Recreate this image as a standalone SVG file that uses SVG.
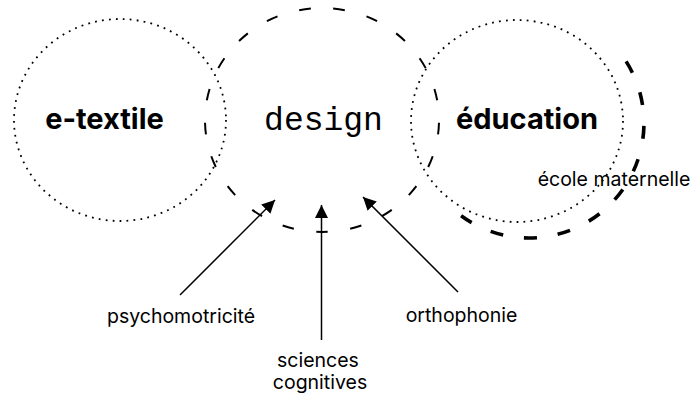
<svg xmlns="http://www.w3.org/2000/svg" width="694" height="395" viewBox="0 0 694 395">
<style>
.dot{fill:none;stroke:#000;stroke-width:1.8;stroke-dasharray:1.8 5.2}
.dash{fill:none;stroke:#000;stroke-width:2}
.thick{fill:none;stroke:#000;stroke-width:3.6;stroke-dasharray:13 20.9}
.head{font-family:Inter,"Liberation Sans",sans-serif;font-weight:700;font-size:29px;fill:#000;text-anchor:middle}
.mono{font-family:"Liberation Mono",monospace;font-size:33px;fill:#000;text-anchor:middle}
.lab{font-family:Inter,"Liberation Sans",sans-serif;font-size:19.5px;fill:#000;text-anchor:middle}
.conn{stroke:#000;stroke-width:1.5;fill:none}
</style>
<defs>
<marker id="arr" markerUnits="userSpaceOnUse" markerWidth="14" markerHeight="13" refX="13" refY="6.5" orient="auto">
<path d="M0,0 L13,6.5 L0,13 Z" fill="#000"/>
</marker>
</defs>
<g id="etextile">
<ellipse class="dot" cx="120" cy="120" rx="106" ry="101"/>
<text class="head" x="104.5" y="129">e-textile</text>
</g>
<g id="design">
<path class="dash" pathLength="21" stroke-dasharray="0.34 0.66" stroke-dashoffset="0.17" d="M322,232 A117,112 0 0 1 205,120 A117,112 0 0 1 322,8 A117,112 0 0 1 439,120 A117,112 0 0 1 322,232 Z"/>
<text class="mono" x="323.5" y="130">design</text>
</g>
<g id="education">
<ellipse class="dot" cx="517" cy="121" rx="106" ry="101"/>
<text class="head" x="527" y="129">éducation</text>
</g>
<g id="ecole">
<path class="thick" d="M626.1,61.4 A115,115 0 0 1 461.1,215.8"/>
<text class="lab" x="614" y="186">école maternelle</text>
</g>
<g id="psychomotricite"><text class="lab" x="181" y="323">psychomotricité</text></g>
<g id="sciences"><text class="lab" x="318" y="367">sciences</text><text class="lab" x="320" y="389">cognitives</text></g>
<g id="orthophonie"><text class="lab" x="461.5" y="322">orthophonie</text></g>
<g id="connectors">
<line class="conn" x1="180" y1="295" x2="275" y2="200" marker-end="url(#arr)"/>
<line class="conn" x1="321.5" y1="340" x2="321.5" y2="205" marker-end="url(#arr)"/>
<line class="conn" x1="458" y1="292" x2="363" y2="197" marker-end="url(#arr)"/>
</g>
</svg>
